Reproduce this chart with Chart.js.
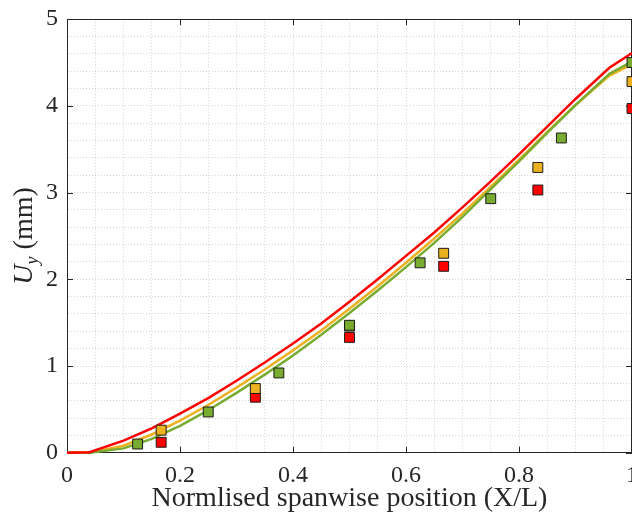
<!DOCTYPE html>
<html>
<head>
<meta charset="utf-8">
<script src="https://cdn.jsdelivr.net/npm/chart.js@4.4.1/dist/chart.umd.min.js"></script>
<style>
  html, body { margin: 0; padding: 0; background: #fff; }
  #wrap { width: 632px; height: 524px; }
</style>
</head>
<body>
<div id="wrap"><canvas id="chart" width="632" height="524"></canvas></div>
<script>
// simulated deflection curves, sampled along the span
const curveX = [0, 0.04, 0.1, 0.15, 0.2, 0.25, 0.3, 0.35, 0.4, 0.45, 0.5, 0.55, 0.6, 0.65, 0.7, 0.75, 0.8, 0.85, 0.9, 0.96, 1];
const curveRed = [0, 0.005, 0.14, 0.28, 0.45, 0.63, 0.83, 1.04, 1.26, 1.49, 1.74, 2.0, 2.27, 2.54, 2.83, 3.13, 3.44, 3.76, 4.08, 4.44, 4.61];
const curveOrange = [0, 0, 0.08, 0.21, 0.37, 0.55, 0.75, 0.96, 1.18, 1.41, 1.66, 1.92, 2.19, 2.47, 2.76, 3.07, 3.38, 3.70, 4.01, 4.35, 4.48];
const curveGreen = [0, 0, 0.05, 0.16, 0.31, 0.49, 0.69, 0.90, 1.12, 1.36, 1.61, 1.87, 2.14, 2.42, 2.72, 3.04, 3.36, 3.69, 4.01, 4.37, 4.51];

// measured points
const greenX = [0.125, 0.25, 0.375, 0.5, 0.625, 0.75, 0.875, 1];
const greenY = [0.10, 0.47, 0.92, 1.47, 2.19, 2.93, 3.63, 4.50];
const sixthX = [1/6, 1/3, 0.5, 2/3, 5/6, 1];
const orangeY = [0.26, 0.74, 1.46, 2.30, 3.29, 4.28];
const redY = [0.12, 0.64, 1.33, 2.15, 3.03, 3.97];

const xTicks = [0, 0.2, 0.4, 0.6, 0.8, 1];
const yTicks = [0, 1, 2, 3, 4, 5];

const RED = '#FF0000', ORANGE = '#EDB120', GREEN = '#77AC30';
const AXIS = '#262626';
const SERIF = '"Liberation Serif", "Times New Roman", serif';

const pts = (xs, ys) => xs.map((x, i) => ({ x: x, y: ys[i] }));
const isMajor = (v, list) => list.some(t => Math.abs(t - v) < 1e-6);

const lineSet = (data, color) => ({
  data: data, showLine: true, borderColor: color, borderWidth: 2.5,
  pointRadius: 0, fill: false, tension: 0, order: 2, clip: false
});
const markSet = (data, color) => ({
  data: data, showLine: false, backgroundColor: color, borderColor: '#1a1a1a',
  borderWidth: 1, pointStyle: 'rect', pointRadius: 7, order: 1, clip: false
});

// box on top/right plus inward tick marks (matlab style)
const framePlugin = {
  id: 'frame',
  beforeDatasetsDraw(chart) {
    const { ctx, chartArea: a, scales: { x, y } } = chart;
    ctx.save();
    ctx.strokeStyle = AXIS;
    ctx.lineWidth = 1;
    ctx.beginPath();
    ctx.moveTo(a.left, Math.round(a.top) + 0.5);
    ctx.lineTo(a.right, Math.round(a.top) + 0.5);
    ctx.moveTo(Math.round(a.right) - 0.5, a.top);
    ctx.lineTo(Math.round(a.right) - 0.5, a.bottom);
    xTicks.forEach(v => {
      const px = Math.round(x.getPixelForValue(v)) + 0.5;
      ctx.moveTo(px, a.bottom); ctx.lineTo(px, a.bottom - 6);
      ctx.moveTo(px, a.top); ctx.lineTo(px, a.top + 6);
    });
    yTicks.forEach(v => {
      const py = Math.round(y.getPixelForValue(v)) + 0.5;
      ctx.moveTo(a.left, py); ctx.lineTo(a.left + 6, py);
      ctx.moveTo(a.right, py); ctx.lineTo(a.right - 6, py);
    });
    ctx.stroke();
    ctx.restore();
  }
};

// y label with italic U and subscript y
const yLabelPlugin = {
  id: 'ylabel',
  afterDraw(chart) {
    const ctx = chart.ctx;
    const a = chart.chartArea;
    const big = 'italic 28px ' + SERIF;
    const sub = 'italic 18px ' + SERIF;
    const plain = '28px ' + SERIF;
    ctx.save();
    ctx.fillStyle = AXIS;
    ctx.textBaseline = 'alphabetic';
    ctx.font = big; const wU = ctx.measureText('U').width;
    ctx.font = sub; const wy = ctx.measureText('y').width;
    ctx.font = plain; const wr = ctx.measureText(' (mm)').width;
    const total = wU + wy + wr;
    ctx.translate(32, (a.top + a.bottom) / 2);
    ctx.rotate(-Math.PI / 2);
    let sx = -total / 2;
    ctx.font = big; ctx.fillText('U', sx, 0); sx += wU;
    ctx.font = sub; ctx.fillText('y', sx, 6); sx += wy;
    ctx.font = plain; ctx.fillText(' (mm)', sx, 0);
    ctx.restore();
  }
};

new Chart(document.getElementById('chart'), {
  type: 'scatter',
  data: {
    datasets: [
      markSet(pts(greenX, greenY), GREEN),
      markSet(pts(sixthX, orangeY), ORANGE),
      markSet(pts(sixthX, redY), RED),
      lineSet(pts(curveX, curveRed), RED),
      lineSet(pts(curveX, curveGreen), GREEN),
      lineSet(pts(curveX, curveOrange), ORANGE)
    ]
  },
  options: {
    responsive: false,
    animation: false,
    events: [],
    layout: { autoPadding: false, padding: { top: 19.2, left: 0, right: -1.6, bottom: 0 } },
    plugins: { legend: { display: false }, tooltip: { enabled: false } },
    scales: {
      x: {
        type: 'linear', min: 0, max: 1,
        afterFit(s) { s.height = 71.3; s.paddingLeft = 0; s.paddingRight = 0; },
        ticks: {
          stepSize: 0.05, autoSkip: false, maxRotation: 0, padding: 9,
          color: AXIS, font: { family: SERIF, size: 24 },
          callback: v => isMajor(v, xTicks) ? (v === 0 ? '0' : Math.abs(v - 1) < 1e-6 ? '1' : v.toFixed(1)) : ''
        },
        grid: { color: 'rgba(0,0,0,0.17)', lineWidth: 1, drawTicks: false },
        border: { color: AXIS, width: 1, dash: [1, 2] },
        title: {
          display: true, text: 'Normlised spanwise position (X/L)', color: AXIS,
          font: { family: SERIF, size: 28, lineHeight: 1.2 }, padding: { top: 0, bottom: 9 }
        }
      },
      y: {
        type: 'linear', min: 0, max: 5,
        afterFit(s) { s.width = 67; s.paddingTop = 0; s.paddingBottom = 0; },
        ticks: {
          stepSize: 0.2, autoSkip: false, padding: 9,
          color: AXIS, font: { family: SERIF, size: 24 },
          callback: v => isMajor(v, yTicks) ? String(Math.round(v)) : ''
        },
        grid: { color: 'rgba(0,0,0,0.17)', lineWidth: 1, drawTicks: false },
        border: { color: AXIS, width: 1, dash: [1, 2] }
      }
    }
  },
  plugins: [framePlugin, yLabelPlugin]
});
</script>
</body>
</html>
